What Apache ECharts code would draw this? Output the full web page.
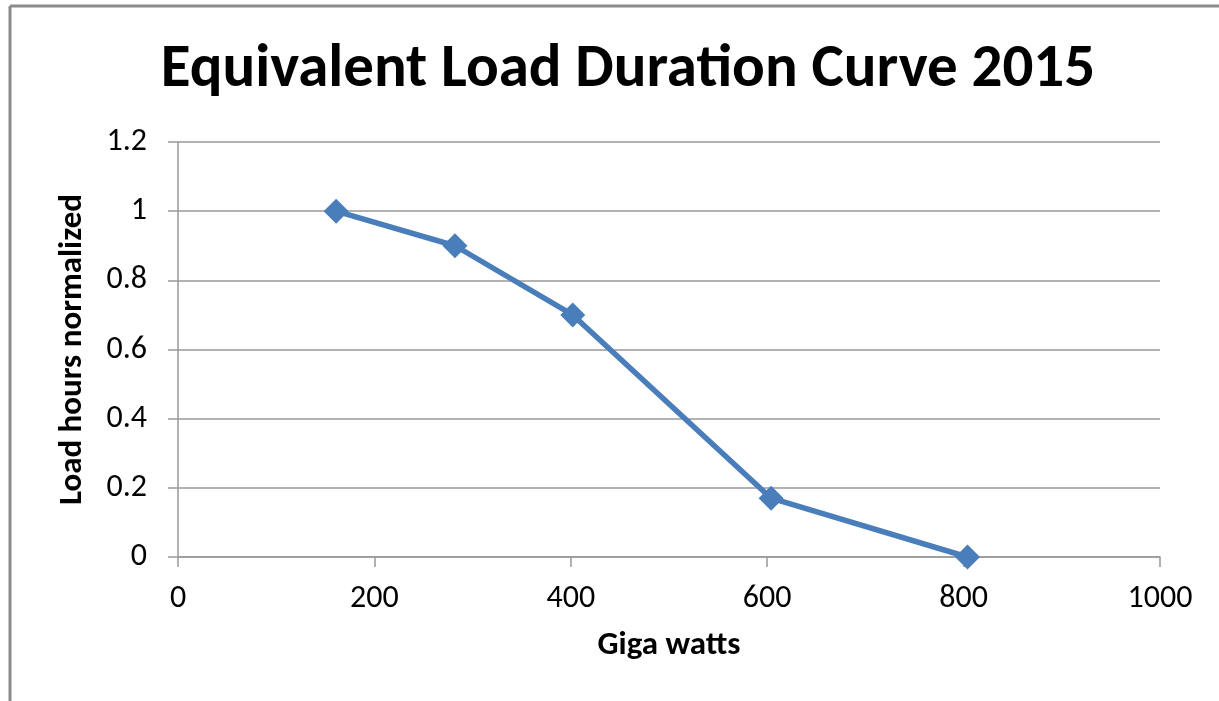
<!DOCTYPE html>
<html lang="en">
<head>
<meta charset="utf-8">
<title>Equivalent Load Duration Curve 2015</title>
<style>
  html, body { margin: 0; padding: 0; background: #fff; }
  #main { width: 1219px; height: 701px; }
</style>
</head>
<body>
<div id="main"></div>
<script src="https://cdn.jsdelivr.net/npm/echarts@6/dist/echarts.min.js"></script>
<script type="text/javascript">
// data
var gigaWatts = [161, 282, 402, 604, 804];
var loadHours = [1.0, 0.9, 0.7, 0.17, 0.0];

var points = gigaWatts.map(function (x, i) { return [x, loadHours[i]]; });

var myChart = echarts.init(document.getElementById('main'));

var font = 'Carlito, Lato, "Open Sans", sans-serif';

var option = {
    backgroundColor: '#fff',
    animation: false,
    title: {
        text: 'Equivalent Load Duration Curve 2015',
        left: 623,
        top: 35,
        textAlign: 'center',
        textStyle: { fontFamily: font, fontSize: 61, fontWeight: 'bold', color: '#000' }
    },
    graphic: [
        // outer chart frame (only top and left edges are visible)
        { type: 'line', shape: { x1: 10, y1: 6, x2: 1219, y2: 6 }, style: { stroke: '#8c8c8c', lineWidth: 3 } },
        { type: 'line', shape: { x1: 10, y1: 6, x2: 10, y2: 701 }, style: { stroke: '#8c8c8c', lineWidth: 3 } }
    ],
    grid: { left: 178, right: 59, top: 142, bottom: 144 },
    xAxis: {
        type: 'value',
        min: 0, max: 1000, interval: 200,
        name: 'Giga watts',
        nameLocation: 'middle',
        nameGap: 72,
        nameTextStyle: { fontFamily: font, fontSize: 33, fontWeight: 'bold', color: '#000' },
        axisLine: { show: true, lineStyle: { color: '#999', width: 1.5 } },
        axisTick: { show: true, length: 10, inside: false, lineStyle: { color: '#999', width: 1.5 } },
        axisLabel: {
            fontFamily: font, fontSize: 32, color: '#000', margin: 26,
            formatter: function (v) { return String(v); }
        },
        splitLine: { show: false }
    },
    yAxis: {
        type: 'value',
        min: 0, max: 1.2, interval: 0.2,
        name: 'Load hours normalized',
        nameLocation: 'middle',
        nameGap: 89,
        nameRotate: 90,
        nameTextStyle: { fontFamily: font, fontSize: 33, fontWeight: 'bold', color: '#000' },
        axisLine: { show: true, lineStyle: { color: '#999', width: 1.5 } },
        axisTick: { show: true, length: 10, lineStyle: { color: '#999', width: 1.5 } },
        axisLabel: {
            fontFamily: font, fontSize: 32, color: '#000', margin: 31,
            formatter: function (v) { return String(Math.round(v * 10) / 10); }
        },
        splitLine: { show: true, lineStyle: { color: '#999', width: 1.5 } }
    },
    series: [
        {
            type: 'line',
            data: points,
            symbol: 'diamond',
            symbolSize: 25,
            lineStyle: { color: '#4a7ebb', width: 5.5 },
            itemStyle: { color: '#4a7ebb' }
        }
    ]
};

myChart.setOption(option);
</script>
</body>
</html>
